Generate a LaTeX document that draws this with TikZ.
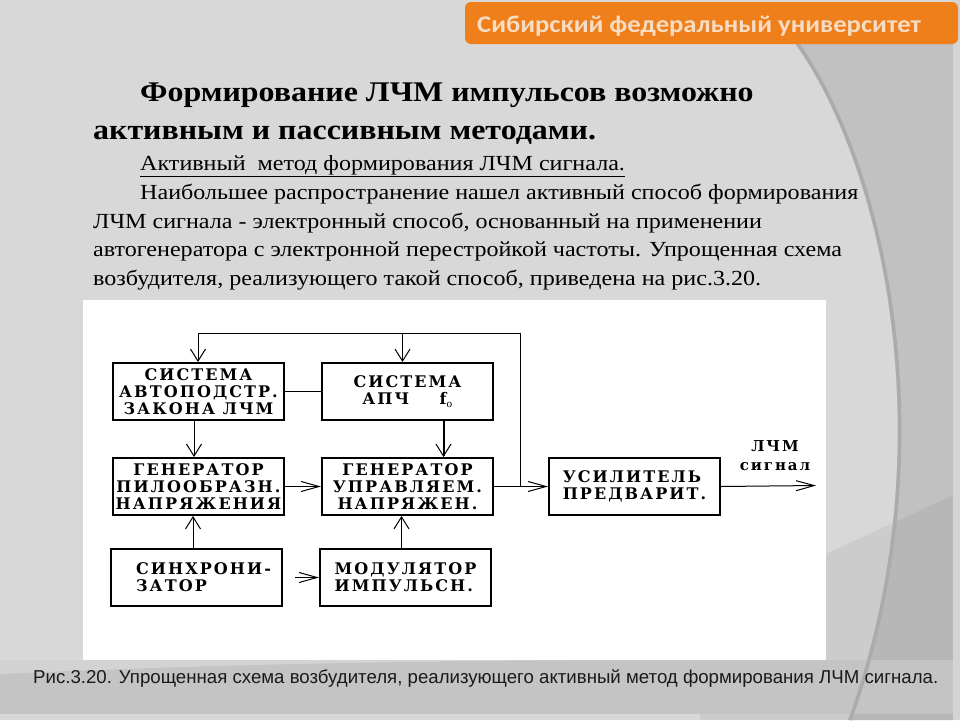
\documentclass[tikz,border=0pt]{standalone}
\usepackage{fontspec}
\setmainfont{Liberation Serif}
\newfontfamily\wideserif[FakeStretch=1.12]{Liberation Serif}
\newfontfamily\bannerfont[FakeStretch=1.11]{Carlito}
\newfontfamily\capfont{Liberation Sans}
\newfontfamily\boxfont[LetterSpace=13]{DejaVu Serif}
\usetikzlibrary{arrows.meta}
\definecolor{bgbase}{HTML}{D8D8D8}
\definecolor{bgdark}{HTML}{C1C1C1}
\definecolor{bgedge}{HTML}{ABABAB}
\definecolor{bgband}{HTML}{C4C4C4}
\definecolor{bgswoosh}{HTML}{D3D3D3}
\definecolor{bgstrip}{HTML}{D4D4D4}
\definecolor{banner}{HTML}{EF7F1A}
\definecolor{bannertext}{HTML}{F8DCC4}
\definecolor{captext}{HTML}{1A1A1A}
\tikzset{
  blk/.style={draw=black, line width=2pt, fill=white, minimum width=171pt, minimum height=57pt,
    inner sep=0pt, anchor=north west, align=center,
    font=\boxfont\bfseries\fontsize{16}{17}\selectfont},
  blkl/.style={blk, align=left},
  wire/.style={line width=1pt, draw=black},
  varr/.style={wire, -{Straight Barb[length=12pt, width=15pt, line width=1pt]}},
  harr/.style={wire, -{Straight Barb[length=18pt, width=10pt, line width=1pt]}},
  bodyline/.style={anchor=base west, inner sep=0pt, font=\wideserif\fontsize{21.5}{26}\selectfont},
  titleline/.style={anchor=base west, inner sep=0pt, font=\wideserif\bfseries\fontsize{28.5}{32}\selectfont},
}
\begin{document}
\begin{tikzpicture}[x=1pt, y=-1pt]
\useasboundingbox (0,0) rectangle (960,720);
% background
\fill[bgbase] (0,0) rectangle (960,720);
\fill[bgdark] (795,43) .. controls (885,170) and (945,450) .. (848,720) -- (953,720) -- (953,43) -- cycle;
\fill[black, opacity=0.05] (700,612) -- (960,492) -- (960,720) -- (700,720) -- cycle;
\fill[bgband] (0,660) rectangle (960,714);
\fill[bgswoosh] (0,660) -- (0,674) .. controls (150,667) and (350,661) .. (620,660) -- cycle;
\draw[bgedge, line width=3.5pt] (797,43) .. controls (887,170) and (947,450) .. (850,720);
\fill[bgstrip] (953,0) rectangle (960,720);
% banner
\fill[banner, rounded corners=6pt] (465,2) rectangle (958,44);
\node[anchor=base west, inner sep=0pt, text=bannertext, font=\bannerfont\bfseries\fontsize{24}{26}\selectfont] (ban) at (477,32) {Сибирский федеральный университет};
% title and text
\node[titleline] (t1) at (140,101) {Формирование ЛЧМ импульсов возможно};
\node[titleline] (t2) at (93,139) {активным и пассивным методами.};
\node[bodyline] (p0) at (140,170) {\underline{Активный\ \ метод формирования ЛЧМ сигнала.}};
\node[bodyline] (p1) at (140,199) {Наибольшее распространение нашел активный способ формирования};
\node[bodyline] (p2) at (93,228) {ЛЧМ сигнала - электронный способ, основанный на применении};
\node[bodyline] (p3) at (93,256.5) {автогенератора с электронной перестройкой частоты. Упрощенная схема};
\node[bodyline] (p4) at (93,285) {возбудителя, реализующего такой способ, приведена на рис.3.20.};
% diagram panel
\fill[white] (83,300) rectangle (826,660);
% blocks
\node[blk] (b1) at (112,362) {СИСТЕМА\\АВТОПОДСТР.\\ЗАКОНА ЛЧМ};
\node[blk] (b2) at (321,362) {СИСТЕМА\\АПЧ\ \ \ \ f$_{\mathrm{o}}$};
\node[blk] (b3) at (112,457) {ГЕНЕРАТОР\\ПИЛООБРАЗН.\\НАПРЯЖЕНИЯ};
\node[blk] (b4) at (321,457) {ГЕНЕРАТОР\\УПРАВЛЯЕМ.\\НАПРЯЖЕН.};
\node[blkl] (b5) at (548,457) {УСИЛИТЕЛЬ\\ПРЕДВАРИТ.};
\node[blkl] (b6) at (110,548) {\hspace*{14pt}СИНХРОНИ-\\\hspace*{14pt}ЗАТОР};
\node[blkl] (b7) at (319,548) {МОДУЛЯТОР\\ИМПУЛЬСН.};
\node[anchor=center, inner sep=0pt, align=center, font=\boxfont\bfseries\fontsize{15}{19}\selectfont] (lab) at (775,456) {ЛЧМ\\сигнал};
% connectors
\coordinate (top) at (0,333);
\coordinate (jn) at (520,485.5);
\coordinate (out) at (816,485.5);
\draw[wire] (b1.east) -- (b2.west);
\draw[varr] (jn) -- (jn |- top) -| ([xshift=-0.5pt]b1.north);
\draw[varr] ([xshift=-5pt]b2.north |- top) -- ([xshift=-5pt]b2.north);
\draw[varr] ([xshift=-4.5pt]b1.south) -- ([xshift=-4.5pt]b3.north);
\draw[varr, line width=2pt] ([xshift=36pt]b2.south) -- ([xshift=36pt]b4.north);
\draw[harr] (b3.east) -- (b4.west);
\draw[harr] (b4.east) -- (b5.west);
\draw[harr] (b5.east) -- (out);
\draw[varr] ([xshift=-3.5pt]b6.north) -- ([xshift=-3.5pt]b6.north |- b3.south);
\draw[varr] ([xshift=-4pt]b7.north) -- ([xshift=-4pt]b7.north |- b4.south);
\draw[harr, shorten <=12pt] (b6.east) -- (b7.west);
% caption
\node[anchor=base west, inner sep=0pt, text=captext, font=\capfont\fontsize{18.65}{20}\selectfont] (cap) at (33,683) {Рис.3.20. Упрощенная схема возбудителя, реализующего активный метод формирования ЛЧМ сигнала.};
\end{tikzpicture}
\end{document}
